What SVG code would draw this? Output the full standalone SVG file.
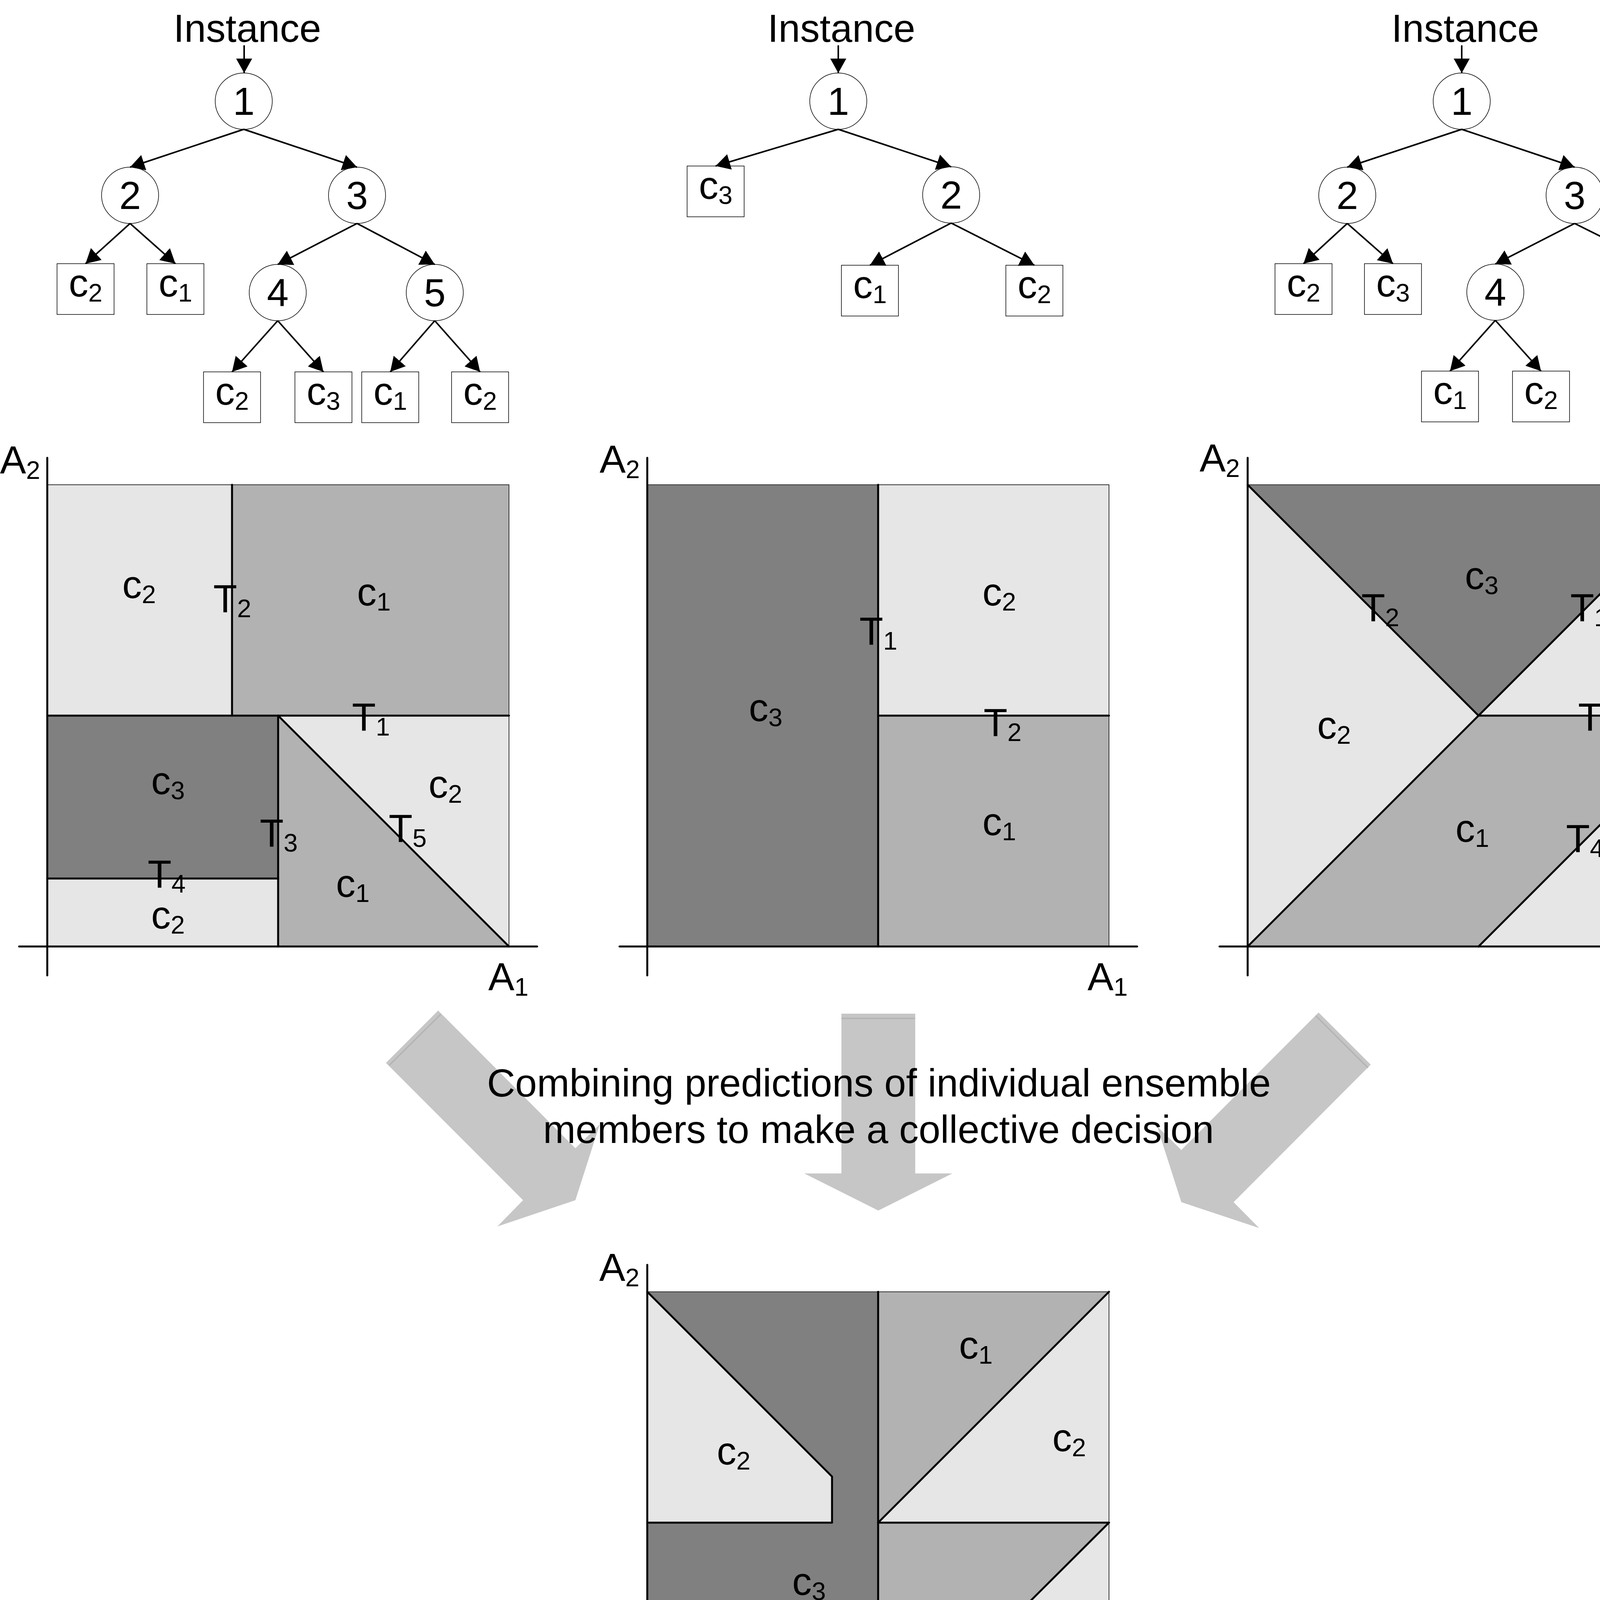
<svg xmlns="http://www.w3.org/2000/svg" width="4451" height="4614" viewBox="0 0 4451 4614">
<style>
text{font-family:"Liberation Sans",Arial,Helvetica,sans-serif;font-size:100px;fill:#000}
.sub{font-size:65px}
.mid{text-anchor:middle}
.lt{fill:#e6e6e6}
.md{fill:#b2b2b2}
.dk{fill:#808080}
.frame{fill:none;stroke:#333;stroke-width:2}
.div{fill:none;stroke:#000;stroke-width:5;stroke-linecap:round;stroke-linejoin:round}
.axis{stroke:#000;stroke-width:5;stroke-linecap:round}
.node{fill:#fff;stroke:#000;stroke-width:1.5}
.leaf{fill:#fff;stroke:#000;stroke-width:1.5}
.edge{stroke:#000;stroke-width:4;fill:none;marker-end:url(#ah)}
.big{fill:#c6c6c6}
.stripe{stroke:#b4b4b4;stroke-width:3.5}
</style>
<defs>
<marker id="ah" markerUnits="userSpaceOnUse" markerWidth="40" markerHeight="42" refX="37" refY="20.5" orient="auto">
<path d="M0,0 L37,20.5 L0,41 z" fill="#000"/>
</marker>
</defs>

<!-- ===== Tree 1 ===== -->
<g id="tree1">
<text id="t1-instance" class="mid" x="633" y="107">Instance</text>
<g id="t1-n1"><ellipse class="node" cx="624" cy="259" rx="73" ry="72"/><text class="mid" x="624" y="294">1</text></g>
<g id="t1-n2"><ellipse class="node" cx="333" cy="500" rx="73" ry="72"/><text class="mid" x="333" y="535">2</text></g>
<g id="t1-n3"><ellipse class="node" cx="914" cy="500" rx="73" ry="72"/><text class="mid" x="914" y="535">3</text></g>
<g id="t1-n4"><ellipse class="node" cx="711" cy="749" rx="73" ry="72"/><text class="mid" x="711" y="784">4</text></g>
<g id="t1-n5"><ellipse class="node" cx="1113" cy="749" rx="73" ry="72"/><text class="mid" x="1113" y="784">5</text></g>
<g id="t1-l1"><rect class="leaf" x="146" y="675" width="146" height="130"/><text class="mid" x="219" y="759"><tspan>c</tspan><tspan class="sub" dy="13">2</tspan></text></g>
<g id="t1-l2"><rect class="leaf" x="376" y="675" width="146" height="130"/><text class="mid" x="449" y="759"><tspan>c</tspan><tspan class="sub" dy="13">1</tspan></text></g>
<g id="t1-l3"><rect class="leaf" x="521" y="952" width="146" height="130"/><text class="mid" x="594" y="1036"><tspan>c</tspan><tspan class="sub" dy="13">2</tspan></text></g>
<g id="t1-l4"><rect class="leaf" x="755" y="952" width="146" height="130"/><text class="mid" x="828" y="1036"><tspan>c</tspan><tspan class="sub" dy="13">3</tspan></text></g>
<g id="t1-l5"><rect class="leaf" x="926" y="952" width="146" height="130"/><text class="mid" x="999" y="1036"><tspan>c</tspan><tspan class="sub" dy="13">1</tspan></text></g>
<g id="t1-l6"><rect class="leaf" x="1156" y="952" width="146" height="130"/><text class="mid" x="1229" y="1036"><tspan>c</tspan><tspan class="sub" dy="13">2</tspan></text></g>
</g>

<!-- ===== Tree 2 ===== -->
<g id="tree2">
<text id="t2-instance" class="mid" x="2154" y="107">Instance</text>
<g id="t2-n1"><ellipse class="node" cx="2146" cy="259" rx="73" ry="72"/><text class="mid" x="2146" y="294">1</text></g>
<g id="t2-n2"><ellipse class="node" cx="2435" cy="499" rx="73" ry="72"/><text class="mid" x="2435" y="534">2</text></g>
<g id="t2-l1"><rect class="leaf" x="1759" y="425" width="146" height="130"/><text class="mid" x="1832" y="509"><tspan>c</tspan><tspan class="sub" dy="13">3</tspan></text></g>
<g id="t2-l2"><rect class="leaf" x="2154" y="679" width="146" height="130"/><text class="mid" x="2227" y="763"><tspan>c</tspan><tspan class="sub" dy="13">1</tspan></text></g>
<g id="t2-l3"><rect class="leaf" x="2575" y="679" width="146" height="130"/><text class="mid" x="2648" y="763"><tspan>c</tspan><tspan class="sub" dy="13">2</tspan></text></g>
</g>

<!-- ===== Tree 3 ===== -->
<g id="tree3">
<text id="t3-instance" class="mid" x="3751" y="107">Instance</text>
<g id="t3-n1"><ellipse class="node" cx="3742" cy="259" rx="73" ry="72"/><text class="mid" x="3742" y="294">1</text></g>
<g id="t3-n2"><ellipse class="node" cx="3449" cy="500" rx="73" ry="72"/><text class="mid" x="3449" y="535">2</text></g>
<g id="t3-n3"><ellipse class="node" cx="4031" cy="500" rx="73" ry="72"/><text class="mid" x="4031" y="535">3</text></g>
<g id="t3-n4"><ellipse class="node" cx="3828" cy="748" rx="73" ry="72"/><text class="mid" x="3828" y="783">4</text></g>
<g id="t3-l1"><rect class="leaf" x="3264" y="675" width="146" height="130"/><text class="mid" x="3337" y="759"><tspan>c</tspan><tspan class="sub" dy="13">2</tspan></text></g>
<g id="t3-l2"><rect class="leaf" x="3493" y="675" width="146" height="130"/><text class="mid" x="3566" y="759"><tspan>c</tspan><tspan class="sub" dy="13">3</tspan></text></g>
<g id="t3-l3"><rect class="leaf" x="4171" y="678" width="146" height="130"/><text class="mid" x="4244" y="762"><tspan>c</tspan><tspan class="sub" dy="13">2</tspan></text></g>
<g id="t3-l4"><rect class="leaf" x="3639" y="950" width="146" height="130"/><text class="mid" x="3712" y="1034"><tspan>c</tspan><tspan class="sub" dy="13">1</tspan></text></g>
<g id="t3-l5"><rect class="leaf" x="3872" y="950" width="146" height="130"/><text class="mid" x="3945" y="1034"><tspan>c</tspan><tspan class="sub" dy="13">2</tspan></text></g>
</g>

<!-- ===== Connectors ===== -->
<g id="connectors">
<line class="edge" x1="625" y1="116" x2="625" y2="187"/>
<line class="edge" x1="624" y1="331" x2="333" y2="428"/>
<line class="edge" x1="624" y1="331" x2="914" y2="428"/>
<line class="edge" x1="333" y1="572" x2="219" y2="675"/>
<line class="edge" x1="333" y1="572" x2="449" y2="675"/>
<line class="edge" x1="914" y1="572" x2="711" y2="677"/>
<line class="edge" x1="914" y1="572" x2="1113" y2="677"/>
<line class="edge" x1="711" y1="821" x2="594" y2="952"/>
<line class="edge" x1="711" y1="821" x2="828" y2="952"/>
<line class="edge" x1="1113" y1="821" x2="999" y2="952"/>
<line class="edge" x1="1113" y1="821" x2="1229" y2="952"/>

<line class="edge" x1="2146" y1="116" x2="2146" y2="187"/>
<line class="edge" x1="2146" y1="331" x2="1832" y2="425"/>
<line class="edge" x1="2146" y1="331" x2="2435" y2="427"/>
<line class="edge" x1="2435" y1="571" x2="2227" y2="679"/>
<line class="edge" x1="2435" y1="571" x2="2648" y2="679"/>

<line class="edge" x1="3742" y1="116" x2="3742" y2="187"/>
<line class="edge" x1="3742" y1="331" x2="3449" y2="428"/>
<line class="edge" x1="3742" y1="331" x2="4031" y2="428"/>
<line class="edge" x1="3449" y1="572" x2="3337" y2="675"/>
<line class="edge" x1="3449" y1="572" x2="3566" y2="675"/>
<line class="edge" x1="4031" y1="572" x2="3828" y2="676"/>
<line class="edge" x1="4031" y1="572" x2="4244" y2="678"/>
<line class="edge" x1="3828" y1="820" x2="3712" y2="950"/>
<line class="edge" x1="3828" y1="820" x2="3945" y2="950"/>
</g>

<!-- ===== Plot 1 ===== -->
<g id="plot1">
<rect class="lt" x="121" y="1241" width="473" height="591"/>
<rect class="md" x="594" y="1241" width="709" height="591"/>
<rect class="dk" x="121" y="1832" width="591" height="417"/>
<rect class="lt" x="121" y="2249" width="591" height="174"/>
<polygon class="md" points="712,1832 1303,2423 712,2423"/>
<polygon class="lt" points="712,1832 1303,1832 1303,2423"/>
<rect class="frame" x="121" y="1241" width="1182" height="1182"/>
<line class="div" x1="594" y1="1241" x2="594" y2="1832"/>
<line class="div" x1="121" y1="1832" x2="1303" y2="1832"/>
<line class="div" x1="712" y1="1832" x2="712" y2="2423"/>
<line class="div" x1="121" y1="2249" x2="712" y2="2249"/>
<line class="div" x1="712" y1="1832" x2="1303" y2="2423"/>
<line class="axis" x1="121" y1="1172" x2="121" y2="2497"/>
<line class="axis" x1="49" y1="2423" x2="1375" y2="2423"/>
<text x="0" y="1212"><tspan>A</tspan><tspan class="sub" dy="14">2</tspan></text>
<text x="1250" y="2535"><tspan>A</tspan><tspan class="sub" dy="14">1</tspan></text>
<text x="313" y="1531"><tspan>c</tspan><tspan class="sub" dy="13">2</tspan></text>
<text x="546" y="1567"><tspan>T</tspan><tspan class="sub" dy="13">2</tspan></text>
<text x="914" y="1550"><tspan>c</tspan><tspan class="sub" dy="13">1</tspan></text>
<text x="901" y="1870"><tspan>T</tspan><tspan class="sub" dy="13">1</tspan></text>
<text x="387" y="2033"><tspan>c</tspan><tspan class="sub" dy="13">3</tspan></text>
<text x="1097" y="2042"><tspan>c</tspan><tspan class="sub" dy="13">2</tspan></text>
<text x="665" y="2167"><tspan>T</tspan><tspan class="sub" dy="13">3</tspan></text>
<text x="995" y="2155"><tspan>T</tspan><tspan class="sub" dy="13">5</tspan></text>
<text x="378" y="2272"><tspan>T</tspan><tspan class="sub" dy="13">4</tspan></text>
<text x="860" y="2296"><tspan>c</tspan><tspan class="sub" dy="13">1</tspan></text>
<text x="387" y="2377"><tspan>c</tspan><tspan class="sub" dy="13">2</tspan></text>
</g>

<!-- ===== Plot 2 ===== -->
<g id="plot2">
<rect class="dk" x="1657" y="1241" width="591" height="1182"/>
<rect class="lt" x="2248" y="1241" width="591" height="591"/>
<rect class="md" x="2248" y="1832" width="591" height="591"/>
<rect class="frame" x="1657" y="1241" width="1182" height="1182"/>
<line class="div" x1="2248" y1="1241" x2="2248" y2="2423"/>
<line class="div" x1="2248" y1="1832" x2="2839" y2="1832"/>
<line class="axis" x1="1657" y1="1172" x2="1657" y2="2497"/>
<line class="axis" x1="1586" y1="2423" x2="2911" y2="2423"/>
<text x="1535" y="1210"><tspan>A</tspan><tspan class="sub" dy="14">2</tspan></text>
<text x="2784" y="2535"><tspan>A</tspan><tspan class="sub" dy="14">1</tspan></text>
<text x="2200" y="1650"><tspan>T</tspan><tspan class="sub" dy="13">1</tspan></text>
<text x="2515" y="1550"><tspan>c</tspan><tspan class="sub" dy="13">2</tspan></text>
<text x="1917" y="1846"><tspan>c</tspan><tspan class="sub" dy="13">3</tspan></text>
<text x="2518" y="1884"><tspan>T</tspan><tspan class="sub" dy="13">2</tspan></text>
<text x="2515" y="2138"><tspan>c</tspan><tspan class="sub" dy="13">1</tspan></text>
</g>

<!-- ===== Plot 3 ===== -->
<g id="plot3">
<polygon class="dk" points="3194,1241 4376,1241 3785,1832"/>
<polygon class="lt" points="3194,1241 3785,1832 3194,2423"/>
<polygon class="lt" points="4376,1241 4376,1832 3785,1832"/>
<polygon class="md" points="3785,1832 4376,1832 3785,2423 3194,2423"/>
<polygon class="lt" points="4376,1832 4376,2423 3785,2423"/>
<rect class="frame" x="3194" y="1241" width="1182" height="1182"/>
<line class="div" x1="3194" y1="1241" x2="3785" y2="1832"/>
<line class="div" x1="4376" y1="1241" x2="3785" y2="1832"/>
<line class="div" x1="3785" y1="1832" x2="4376" y2="1832"/>
<line class="div" x1="3194" y1="2423" x2="3785" y2="1832"/>
<line class="div" x1="3785" y1="2423" x2="4376" y2="1832"/>
<line class="axis" x1="3194" y1="1172" x2="3194" y2="2497"/>
<line class="axis" x1="3122" y1="2423" x2="4447" y2="2423"/>
<text x="3071" y="1207"><tspan>A</tspan><tspan class="sub" dy="14">2</tspan></text>
<text x="4310" y="2535"><tspan>A</tspan><tspan class="sub" dy="14">1</tspan></text>
<text x="3750" y="1508"><tspan>c</tspan><tspan class="sub" dy="13">3</tspan></text>
<text x="3485" y="1590"><tspan>T</tspan><tspan class="sub" dy="13">2</tspan></text>
<text x="4020" y="1590"><tspan>T</tspan><tspan class="sub" dy="13">1</tspan></text>
<text x="4199" y="1626"><tspan>c</tspan><tspan class="sub" dy="13">2</tspan></text>
<text x="3372" y="1891"><tspan>c</tspan><tspan class="sub" dy="13">2</tspan></text>
<text x="4040" y="1870"><tspan>T</tspan><tspan class="sub" dy="13">3</tspan></text>
<text x="3726" y="2155"><tspan>c</tspan><tspan class="sub" dy="13">1</tspan></text>
<text x="4009" y="2181"><tspan>T</tspan><tspan class="sub" dy="13">4</tspan></text>
<text x="4216" y="2243"><tspan>c</tspan><tspan class="sub" dy="13">2</tspan></text>
</g>

<!-- ===== Combining arrows ===== -->
<g id="combine">
<polygon class="big" points="1121.7,2587.1 1473,2939.5 1535.2,2878.5 1473,3072.5 1273.2,3139.7 1339.1,3072.5 988,2721"/>
<line class="stripe" x1="1128.1" y1="2596.7" x2="996.3" y2="2727.3"/>
<polygon class="big" points="2154,2595 2343,2595 2343,3004 2438,3004 2248.5,3099 2059,3004 2154,3004"/>
<line class="stripe" x1="2154" y1="2607" x2="2343" y2="2607"/>
<polygon class="big" points="3375.6,2592 3024.2,2944 2962,2883 3024.2,3077.5 3223.5,3143.8 3158,3077.5 3509.1,2725.5"/>
<line class="stripe" x1="3368.1" y1="2600" x2="3502" y2="2733.5"/>
<text class="mid" x="2250" y="2807">Combining predictions of individual ensemble</text>
<text class="mid" x="2249" y="2926">members to make a collective decision</text>
</g>

<!-- ===== Combined plot ===== -->
<g id="plot4">
<polygon class="dk" points="1657,3307 2248,3307 2248,4314 1657,4314 1657,3898 2130,3898 2130,3780"/>
<polygon class="lt" points="1657,3307 2130,3780 2130,3898 1657,3898"/>
<polygon class="md" points="2248,3307 2839,3307 2248,3898"/>
<polygon class="lt" points="2839,3307 2839,3898 2248,3898"/>
<polygon class="md" points="2248,3898 2839,3898 2543,4193 2839,4489 1657,4489 1830,4314 2248,4314"/>
<polygon class="lt" points="2839,3898 2543,4193 2839,4489"/>
<polygon class="lt" points="1657,4314 1830,4314 1657,4489"/>
<rect class="frame" x="1657" y="3307" width="1182" height="1182"/>
<polyline class="div" points="1657,3307 2130,3780 2130,3898 1657,3898"/>
<polyline class="div" points="2248,3307 2248,4314 1657,4314"/>
<line class="div" x1="1657" y1="4489" x2="1830" y2="4314"/>
<line class="div" x1="2248" y1="3898" x2="2839" y2="3898"/>
<line class="div" x1="2248" y1="3898" x2="2839" y2="3307"/>
<polyline class="div" points="2839,3898 2543,4193 2839,4489"/>
<line class="axis" x1="1657" y1="3238" x2="1657" y2="4563"/>
<line class="axis" x1="1585" y1="4489" x2="2913" y2="4489"/>
<text x="1534" y="3279"><tspan>A</tspan><tspan class="sub" dy="14">2</tspan></text>
<text x="2775" y="4601"><tspan>A</tspan><tspan class="sub" dy="14">1</tspan></text>
<text x="2455" y="3478"><tspan>c</tspan><tspan class="sub" dy="13">1</tspan></text>
<text x="1835" y="3749"><tspan>c</tspan><tspan class="sub" dy="13">2</tspan></text>
<text x="2694" y="3715"><tspan>c</tspan><tspan class="sub" dy="13">2</tspan></text>
<text x="2028" y="4083"><tspan>c</tspan><tspan class="sub" dy="13">3</tspan></text>
<text x="2339" y="4201"><tspan>c</tspan><tspan class="sub" dy="13">1</tspan></text>
<text x="2722" y="4201"><tspan>c</tspan><tspan class="sub" dy="13">2</tspan></text>
<text x="1665" y="4379"><tspan>c</tspan><tspan class="sub" dy="13">2</tspan></text>
</g>
</svg>
